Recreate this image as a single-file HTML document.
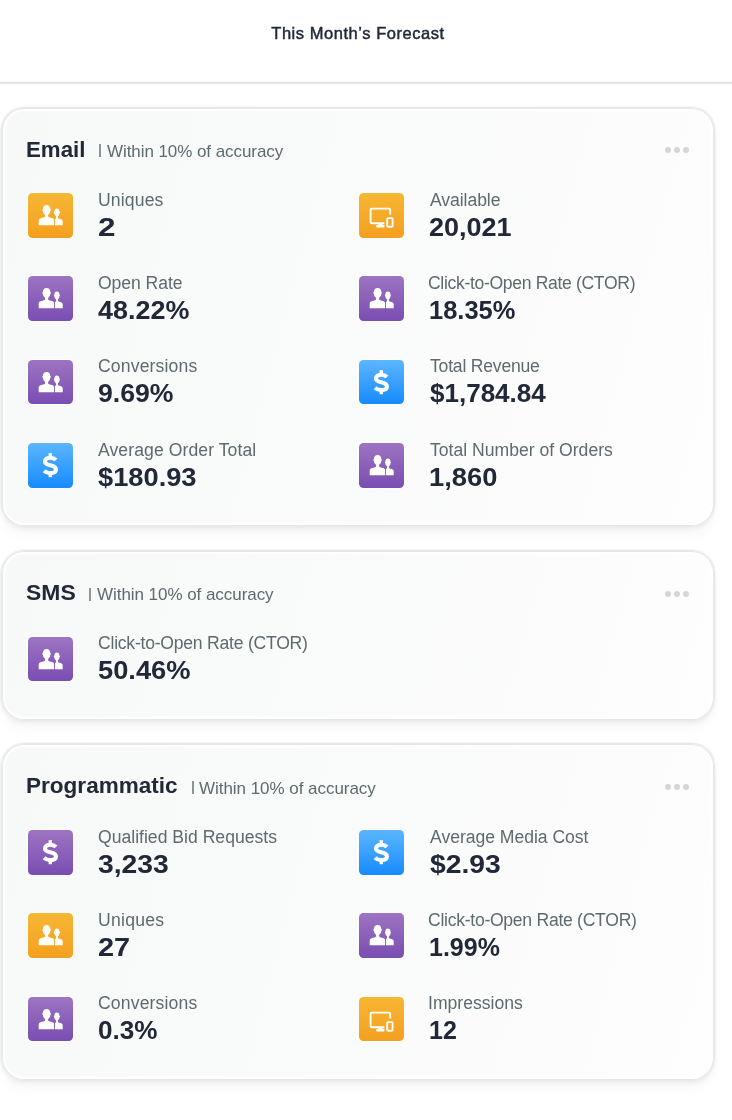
<!DOCTYPE html><html><head><meta charset="utf-8"><style>
html,body{margin:0;padding:0;background:#fff;}
body{width:732px;height:1120px;position:relative;overflow:hidden;font-family:"Liberation Sans",sans-serif;}
.t{position:absolute;white-space:nowrap;line-height:1;will-change:transform;}
.card{position:absolute;left:1px;width:714px;box-sizing:border-box;border:1px solid #e9e9e9;border-radius:23px;
 background:linear-gradient(105deg,#f7f8f8 0%,#f9fafa 40%,#fcfcfc 75%,#fefefe 100%);
 box-shadow:inset 0 0 0 1px #e6e6e6, inset 0 0 0 3.2px #fff, 0 0 0 0.6px #eeeeee, 0 3px 5px -1px rgba(0,0,0,0.05), 0 9px 16px -4px rgba(0,0,0,0.045);}
.ic{position:absolute;width:44.7px;height:44.7px;border-radius:4.5px;box-shadow:0 0 0 1px #fff;}
.ic svg{position:absolute;left:0;top:0;}
.dots{position:absolute;}
.dots i{position:absolute;width:6px;height:6px;border-radius:50%;background:#d6d6d6;top:0;}
.lb{font-size:17.6px;color:#5e6b6e;}
.vl{font-size:25px;font-weight:bold;color:#212838;}
</style></head><body>
<div class="t" style="left:0;width:716px;text-align:center;top:25.03px;font-size:16.5px;font-weight:normal;-webkit-text-stroke:0.45px #212838;color:#212838;letter-spacing:0.545px;">This Month’s Forecast</div>
<div style="position:absolute;left:0;width:732px;top:81px;height:4px;background:linear-gradient(#f9f9f9 0 25%,#e0e0e0 25% 50%,#e6e6e6 50% 75%,#fafafa 75% 100%)"></div>
<div class="card" style="top:106.5px;height:420.5px"></div>
<div class="t" style="left:26.35px;top:139.70px;font-size:21.5px;font-weight:bold;color:#212838;transform:scaleX(1.0364);transform-origin:0 0;">Email</div>
<div style="position:absolute;left:98.90px;top:144.00px;width:2px;height:13.2px;background:#8c959a"></div>
<div class="t" style="left:106.70px;top:143.31px;font-size:17px;color:#5e6b6e;letter-spacing:-0.067px;">Within 10% of accuracy</div>
<div class="dots" style="left:665px;top:147.00px"><i style="left:0px"></i><i style="left:9px"></i><i style="left:18px"></i></div>
<div class="ic" style="left:28.4px;top:193.10px;background:linear-gradient(180deg,#f7b733,#f49f1f)"><svg width="45" height="45" viewBox="0 0 45 45"><g fill="#fff" transform="translate(0.5 0.4)">
<path d="M10.2 31.8V27.2Q10.2 25.4 12 24.9L15.6 23.9Q16.6 23.6 16.6 22.6V21.6Q14.6 20.4 14.4 17.6Q13.6 17.2 13.8 16.2Q14 15.6 14.4 15.6Q14.6 11.6 18.1 11.6Q21.6 11.6 21.8 15.6Q22.2 15.6 22.4 16.2Q22.6 17.2 21.8 17.6Q21.6 20.4 19.6 21.6V22.6Q19.6 23.6 20.6 23.9L24.2 24.9Q25.6 25.4 25.6 27.2V31.8Z"/>
<path d="M26.5 31.8V25.7L27 25.3Q27.6 24.9 27.6 24.2V23.2Q26 22.2 25.8 19.8Q25.2 19.5 25.3 18.8Q25.4 18.4 25.8 18.4Q26 15 28.2 15Q30.9 15 31 18.4Q31.4 18.4 31.5 18.8Q31.6 19.5 31 19.8Q30.8 22.2 29.4 23.2V24.2Q29.4 24.9 30.2 25.2L32.6 25.8Q34.2 26.3 34.2 27.8V31.8Z"/>
</g></svg></div>
<div class="t lb" style="left:97.62px;top:191.50px;letter-spacing:0.133px;">Uniques</div>
<div class="t vl" style="left:97.75px;top:215.04px;transform:scaleX(1.2571);transform-origin:0 0;">2</div>
<div class="ic" style="left:359.4px;top:193.10px;background:linear-gradient(180deg,#f7b733,#f49f1f)"><svg width="45" height="45" viewBox="0 0 45 45"><g fill="none" stroke="#fff" stroke-width="1.9">
<path d="M31.2 21.6V16.8c0-.7-.5-1.2-1.2-1.2H12.8c-.7 0-1.2.5-1.2 1.2v12.3c0 .7.5 1.2 1.2 1.2h12.6"/>
<rect x="28.2" y="25.1" width="5.4" height="8.6" rx="1"/>
</g><g fill="#fff"><rect x="19.3" y="30" width="4.4" height="2.6"/><rect x="17.2" y="32" width="8.3" height="2.4" rx=".6"/></g></svg></div>
<div class="t lb" style="left:429.78px;top:191.50px;letter-spacing:-0.075px;">Available</div>
<div class="t vl" style="left:429.21px;top:215.04px;transform:scaleX(1.0800);transform-origin:0 0;">20,021</div>
<div class="ic" style="left:28.4px;top:276.43px;background:linear-gradient(180deg,#9d74c2,#7a4db2)"><svg width="45" height="45" viewBox="0 0 45 45"><g fill="#fff" transform="translate(0.5 0.4)">
<path d="M10.2 31.8V27.2Q10.2 25.4 12 24.9L15.6 23.9Q16.6 23.6 16.6 22.6V21.6Q14.6 20.4 14.4 17.6Q13.6 17.2 13.8 16.2Q14 15.6 14.4 15.6Q14.6 11.6 18.1 11.6Q21.6 11.6 21.8 15.6Q22.2 15.6 22.4 16.2Q22.6 17.2 21.8 17.6Q21.6 20.4 19.6 21.6V22.6Q19.6 23.6 20.6 23.9L24.2 24.9Q25.6 25.4 25.6 27.2V31.8Z"/>
<path d="M26.5 31.8V25.7L27 25.3Q27.6 24.9 27.6 24.2V23.2Q26 22.2 25.8 19.8Q25.2 19.5 25.3 18.8Q25.4 18.4 25.8 18.4Q26 15 28.2 15Q30.9 15 31 18.4Q31.4 18.4 31.5 18.8Q31.6 19.5 31 19.8Q30.8 22.2 29.4 23.2V24.2Q29.4 24.9 30.2 25.2L32.6 25.8Q34.2 26.3 34.2 27.8V31.8Z"/>
</g></svg></div>
<div class="t lb" style="left:97.62px;top:274.82px;letter-spacing:-0.075px;">Open Rate</div>
<div class="t vl" style="left:98.45px;top:297.76px;transform:scaleX(1.0776);transform-origin:0 0;">48.22%</div>
<div class="ic" style="left:359.4px;top:276.43px;background:linear-gradient(180deg,#9d74c2,#7a4db2)"><svg width="45" height="45" viewBox="0 0 45 45"><g fill="#fff" transform="translate(0.5 0.4)">
<path d="M10.2 31.8V27.2Q10.2 25.4 12 24.9L15.6 23.9Q16.6 23.6 16.6 22.6V21.6Q14.6 20.4 14.4 17.6Q13.6 17.2 13.8 16.2Q14 15.6 14.4 15.6Q14.6 11.6 18.1 11.6Q21.6 11.6 21.8 15.6Q22.2 15.6 22.4 16.2Q22.6 17.2 21.8 17.6Q21.6 20.4 19.6 21.6V22.6Q19.6 23.6 20.6 23.9L24.2 24.9Q25.6 25.4 25.6 27.2V31.8Z"/>
<path d="M26.5 31.8V25.7L27 25.3Q27.6 24.9 27.6 24.2V23.2Q26 22.2 25.8 19.8Q25.2 19.5 25.3 18.8Q25.4 18.4 25.8 18.4Q26 15 28.2 15Q30.9 15 31 18.4Q31.4 18.4 31.5 18.8Q31.6 19.5 31 19.8Q30.8 22.2 29.4 23.2V24.2Q29.4 24.9 30.2 25.2L32.6 25.8Q34.2 26.3 34.2 27.8V31.8Z"/>
</g></svg></div>
<div class="t lb" style="left:428.38px;top:274.82px;letter-spacing:-0.342px;">Click-to-Open Rate (CTOR)</div>
<div class="t vl" style="left:429.21px;top:297.76px;transform:scaleX(1.0183);transform-origin:0 0;">18.35%</div>
<div class="ic" style="left:28.4px;top:359.76px;background:linear-gradient(180deg,#9d74c2,#7a4db2)"><svg width="45" height="45" viewBox="0 0 45 45"><g fill="#fff" transform="translate(0.5 0.4)">
<path d="M10.2 31.8V27.2Q10.2 25.4 12 24.9L15.6 23.9Q16.6 23.6 16.6 22.6V21.6Q14.6 20.4 14.4 17.6Q13.6 17.2 13.8 16.2Q14 15.6 14.4 15.6Q14.6 11.6 18.1 11.6Q21.6 11.6 21.8 15.6Q22.2 15.6 22.4 16.2Q22.6 17.2 21.8 17.6Q21.6 20.4 19.6 21.6V22.6Q19.6 23.6 20.6 23.9L24.2 24.9Q25.6 25.4 25.6 27.2V31.8Z"/>
<path d="M26.5 31.8V25.7L27 25.3Q27.6 24.9 27.6 24.2V23.2Q26 22.2 25.8 19.8Q25.2 19.5 25.3 18.8Q25.4 18.4 25.8 18.4Q26 15 28.2 15Q30.9 15 31 18.4Q31.4 18.4 31.5 18.8Q31.6 19.5 31 19.8Q30.8 22.2 29.4 23.2V24.2Q29.4 24.9 30.2 25.2L32.6 25.8Q34.2 26.3 34.2 27.8V31.8Z"/>
</g></svg></div>
<div class="t lb" style="left:97.62px;top:358.14px;letter-spacing:0.140px;">Conversions</div>
<div class="t vl" style="left:97.75px;top:381.08px;transform:scaleX(1.0656);transform-origin:0 0;">9.69%</div>
<div class="ic" style="left:359.4px;top:359.76px;background:linear-gradient(180deg,#5cb6ff,#168bff)"><svg width="45" height="45" viewBox="0 0 45 45"><g fill="#fff"><rect x="20.6" y="10.2" width="3.3" height="4"/><rect x="20.6" y="30.2" width="3.3" height="4"/></g>
<path fill="none" stroke="#fff" stroke-width="4.1" d="M28 16.9C26.6 15.5 24.6 14.7 22.3 14.7C19.3 14.7 17 16.1 17 18.5C17 21.1 19.6 21.7 22.3 22.3C25.3 22.9 27.9 23.7 27.9 26.5C27.9 28.9 25.5 30.1 22.3 30.1C19.9 30.1 17.7 29.2 16.1 27.7"/></svg></div>
<div class="t lb" style="left:429.78px;top:358.14px;letter-spacing:-0.217px;">Total Revenue</div>
<div class="t vl" style="left:429.91px;top:381.08px;transform:scaleX(1.0407);transform-origin:0 0;">$1,784.84</div>
<div class="ic" style="left:28.4px;top:443.09px;background:linear-gradient(180deg,#5cb6ff,#168bff)"><svg width="45" height="45" viewBox="0 0 45 45"><g fill="#fff"><rect x="20.6" y="10.2" width="3.3" height="4"/><rect x="20.6" y="30.2" width="3.3" height="4"/></g>
<path fill="none" stroke="#fff" stroke-width="4.1" d="M28 16.9C26.6 15.5 24.6 14.7 22.3 14.7C19.3 14.7 17 16.1 17 18.5C17 21.1 19.6 21.7 22.3 22.3C25.3 22.9 27.9 23.7 27.9 26.5C27.9 28.9 25.5 30.1 22.3 30.1C19.9 30.1 17.7 29.2 16.1 27.7"/></svg></div>
<div class="t lb" style="left:98.32px;top:442.06px;letter-spacing:0.078px;">Average Order Total</div>
<div class="t vl" style="left:98.45px;top:465.00px;transform:scaleX(1.0901);transform-origin:0 0;">$180.93</div>
<div class="ic" style="left:359.4px;top:443.09px;background:linear-gradient(180deg,#9d74c2,#7a4db2)"><svg width="45" height="45" viewBox="0 0 45 45"><g fill="#fff" transform="translate(0.5 0.4)">
<path d="M10.2 31.8V27.2Q10.2 25.4 12 24.9L15.6 23.9Q16.6 23.6 16.6 22.6V21.6Q14.6 20.4 14.4 17.6Q13.6 17.2 13.8 16.2Q14 15.6 14.4 15.6Q14.6 11.6 18.1 11.6Q21.6 11.6 21.8 15.6Q22.2 15.6 22.4 16.2Q22.6 17.2 21.8 17.6Q21.6 20.4 19.6 21.6V22.6Q19.6 23.6 20.6 23.9L24.2 24.9Q25.6 25.4 25.6 27.2V31.8Z"/>
<path d="M26.5 31.8V25.7L27 25.3Q27.6 24.9 27.6 24.2V23.2Q26 22.2 25.8 19.8Q25.2 19.5 25.3 18.8Q25.4 18.4 25.8 18.4Q26 15 28.2 15Q30.9 15 31 18.4Q31.4 18.4 31.5 18.8Q31.6 19.5 31 19.8Q30.8 22.2 29.4 23.2V24.2Q29.4 24.9 30.2 25.2L32.6 25.8Q34.2 26.3 34.2 27.8V31.8Z"/>
</g></svg></div>
<div class="t lb" style="left:429.78px;top:442.06px;letter-spacing:-0.000px;">Total Number of Orders</div>
<div class="t vl" style="left:428.51px;top:465.00px;transform:scaleX(1.0920);transform-origin:0 0;">1,860</div>
<div class="card" style="top:549.7px;height:171px"></div>
<div class="t" style="left:26.35px;top:582.50px;font-size:21.5px;font-weight:bold;color:#212838;transform:scaleX(1.0667);transform-origin:0 0;">SMS</div>
<div style="position:absolute;left:88.60px;top:587.80px;width:2px;height:13.2px;background:#8c959a"></div>
<div class="t" style="left:96.55px;top:585.81px;font-size:17px;color:#5e6b6e;letter-spacing:-0.048px;">Within 10% of accuracy</div>
<div class="dots" style="left:665px;top:590.50px"><i style="left:0px"></i><i style="left:9px"></i><i style="left:18px"></i></div>
<div class="ic" style="left:28.4px;top:636.60px;background:linear-gradient(180deg,#9d74c2,#7a4db2)"><svg width="45" height="45" viewBox="0 0 45 45"><g fill="#fff" transform="translate(0.5 0.4)">
<path d="M10.2 31.8V27.2Q10.2 25.4 12 24.9L15.6 23.9Q16.6 23.6 16.6 22.6V21.6Q14.6 20.4 14.4 17.6Q13.6 17.2 13.8 16.2Q14 15.6 14.4 15.6Q14.6 11.6 18.1 11.6Q21.6 11.6 21.8 15.6Q22.2 15.6 22.4 16.2Q22.6 17.2 21.8 17.6Q21.6 20.4 19.6 21.6V22.6Q19.6 23.6 20.6 23.9L24.2 24.9Q25.6 25.4 25.6 27.2V31.8Z"/>
<path d="M26.5 31.8V25.7L27 25.3Q27.6 24.9 27.6 24.2V23.2Q26 22.2 25.8 19.8Q25.2 19.5 25.3 18.8Q25.4 18.4 25.8 18.4Q26 15 28.2 15Q30.9 15 31 18.4Q31.4 18.4 31.5 18.8Q31.6 19.5 31 19.8Q30.8 22.2 29.4 23.2V24.2Q29.4 24.9 30.2 25.2L32.6 25.8Q34.2 26.3 34.2 27.8V31.8Z"/>
</g></svg></div>
<div class="t lb" style="left:97.62px;top:634.90px;letter-spacing:-0.242px;">Click-to-Open Rate (CTOR)</div>
<div class="t vl" style="left:97.75px;top:658.44px;transform:scaleX(1.0906);transform-origin:0 0;">50.46%</div>
<div class="card" style="top:743.0px;height:337.5px"></div>
<div class="t" style="left:26.35px;top:776.40px;font-size:21.5px;font-weight:bold;color:#212838;transform:scaleX(1.0490);transform-origin:0 0;">Programmatic</div>
<div style="position:absolute;left:191.50px;top:780.70px;width:2px;height:13.2px;background:#8c959a"></div>
<div class="t" style="left:198.70px;top:779.81px;font-size:17px;color:#5e6b6e;letter-spacing:-0.038px;">Within 10% of accuracy</div>
<div class="dots" style="left:665px;top:784.00px"><i style="left:0px"></i><i style="left:9px"></i><i style="left:18px"></i></div>
<div class="ic" style="left:28.4px;top:830.10px;background:linear-gradient(180deg,#9d74c2,#7a4db2)"><svg width="45" height="45" viewBox="0 0 45 45"><g fill="#fff"><rect x="20.6" y="10.2" width="3.3" height="4"/><rect x="20.6" y="30.2" width="3.3" height="4"/></g>
<path fill="none" stroke="#fff" stroke-width="4.1" d="M28 16.9C26.6 15.5 24.6 14.7 22.3 14.7C19.3 14.7 17 16.1 17 18.5C17 21.1 19.6 21.7 22.3 22.3C25.3 22.9 27.9 23.7 27.9 26.5C27.9 28.9 25.5 30.1 22.3 30.1C19.9 30.1 17.7 29.2 16.1 27.7"/></svg></div>
<div class="t lb" style="left:97.62px;top:828.50px;">Qualified Bid Requests</div>
<div class="t vl" style="left:97.75px;top:852.04px;transform:scaleX(1.1314);transform-origin:0 0;">3,233</div>
<div class="ic" style="left:359.4px;top:830.10px;background:linear-gradient(180deg,#5cb6ff,#168bff)"><svg width="45" height="45" viewBox="0 0 45 45"><g fill="#fff"><rect x="20.6" y="10.2" width="3.3" height="4"/><rect x="20.6" y="30.2" width="3.3" height="4"/></g>
<path fill="none" stroke="#fff" stroke-width="4.1" d="M28 16.9C26.6 15.5 24.6 14.7 22.3 14.7C19.3 14.7 17 16.1 17 18.5C17 21.1 19.6 21.7 22.3 22.3C25.3 22.9 27.9 23.7 27.9 26.5C27.9 28.9 25.5 30.1 22.3 30.1C19.9 30.1 17.7 29.2 16.1 27.7"/></svg></div>
<div class="t lb" style="left:429.78px;top:828.50px;letter-spacing:-0.035px;">Average Media Cost</div>
<div class="t vl" style="left:429.91px;top:852.04px;transform:scaleX(1.1318);transform-origin:0 0;">$2.93</div>
<div class="ic" style="left:28.4px;top:913.43px;background:linear-gradient(180deg,#f7b733,#f49f1f)"><svg width="45" height="45" viewBox="0 0 45 45"><g fill="#fff" transform="translate(0.5 0.4)">
<path d="M10.2 31.8V27.2Q10.2 25.4 12 24.9L15.6 23.9Q16.6 23.6 16.6 22.6V21.6Q14.6 20.4 14.4 17.6Q13.6 17.2 13.8 16.2Q14 15.6 14.4 15.6Q14.6 11.6 18.1 11.6Q21.6 11.6 21.8 15.6Q22.2 15.6 22.4 16.2Q22.6 17.2 21.8 17.6Q21.6 20.4 19.6 21.6V22.6Q19.6 23.6 20.6 23.9L24.2 24.9Q25.6 25.4 25.6 27.2V31.8Z"/>
<path d="M26.5 31.8V25.7L27 25.3Q27.6 24.9 27.6 24.2V23.2Q26 22.2 25.8 19.8Q25.2 19.5 25.3 18.8Q25.4 18.4 25.8 18.4Q26 15 28.2 15Q30.9 15 31 18.4Q31.4 18.4 31.5 18.8Q31.6 19.5 31 19.8Q30.8 22.2 29.4 23.2V24.2Q29.4 24.9 30.2 25.2L32.6 25.8Q34.2 26.3 34.2 27.8V31.8Z"/>
</g></svg></div>
<div class="t lb" style="left:97.62px;top:911.82px;letter-spacing:0.267px;">Uniques</div>
<div class="t vl" style="left:97.75px;top:934.76px;transform:scaleX(1.1553);transform-origin:0 0;">27</div>
<div class="ic" style="left:359.4px;top:913.43px;background:linear-gradient(180deg,#9d74c2,#7a4db2)"><svg width="45" height="45" viewBox="0 0 45 45"><g fill="#fff" transform="translate(0.5 0.4)">
<path d="M10.2 31.8V27.2Q10.2 25.4 12 24.9L15.6 23.9Q16.6 23.6 16.6 22.6V21.6Q14.6 20.4 14.4 17.6Q13.6 17.2 13.8 16.2Q14 15.6 14.4 15.6Q14.6 11.6 18.1 11.6Q21.6 11.6 21.8 15.6Q22.2 15.6 22.4 16.2Q22.6 17.2 21.8 17.6Q21.6 20.4 19.6 21.6V22.6Q19.6 23.6 20.6 23.9L24.2 24.9Q25.6 25.4 25.6 27.2V31.8Z"/>
<path d="M26.5 31.8V25.7L27 25.3Q27.6 24.9 27.6 24.2V23.2Q26 22.2 25.8 19.8Q25.2 19.5 25.3 18.8Q25.4 18.4 25.8 18.4Q26 15 28.2 15Q30.9 15 31 18.4Q31.4 18.4 31.5 18.8Q31.6 19.5 31 19.8Q30.8 22.2 29.4 23.2V24.2Q29.4 24.9 30.2 25.2L32.6 25.8Q34.2 26.3 34.2 27.8V31.8Z"/>
</g></svg></div>
<div class="t lb" style="left:428.38px;top:911.82px;letter-spacing:-0.283px;">Click-to-Open Rate (CTOR)</div>
<div class="t vl" style="left:429.21px;top:934.76px;transform:scaleX(1.0002);transform-origin:0 0;">1.99%</div>
<div class="ic" style="left:28.4px;top:996.76px;background:linear-gradient(180deg,#9d74c2,#7a4db2)"><svg width="45" height="45" viewBox="0 0 45 45"><g fill="#fff" transform="translate(0.5 0.4)">
<path d="M10.2 31.8V27.2Q10.2 25.4 12 24.9L15.6 23.9Q16.6 23.6 16.6 22.6V21.6Q14.6 20.4 14.4 17.6Q13.6 17.2 13.8 16.2Q14 15.6 14.4 15.6Q14.6 11.6 18.1 11.6Q21.6 11.6 21.8 15.6Q22.2 15.6 22.4 16.2Q22.6 17.2 21.8 17.6Q21.6 20.4 19.6 21.6V22.6Q19.6 23.6 20.6 23.9L24.2 24.9Q25.6 25.4 25.6 27.2V31.8Z"/>
<path d="M26.5 31.8V25.7L27 25.3Q27.6 24.9 27.6 24.2V23.2Q26 22.2 25.8 19.8Q25.2 19.5 25.3 18.8Q25.4 18.4 25.8 18.4Q26 15 28.2 15Q30.9 15 31 18.4Q31.4 18.4 31.5 18.8Q31.6 19.5 31 19.8Q30.8 22.2 29.4 23.2V24.2Q29.4 24.9 30.2 25.2L32.6 25.8Q34.2 26.3 34.2 27.8V31.8Z"/>
</g></svg></div>
<div class="t lb" style="left:97.62px;top:995.14px;letter-spacing:0.140px;">Conversions</div>
<div class="t vl" style="left:97.75px;top:1018.08px;transform:scaleX(1.0461);transform-origin:0 0;">0.3%</div>
<div class="ic" style="left:359.4px;top:996.76px;background:linear-gradient(180deg,#f7b733,#f49f1f)"><svg width="45" height="45" viewBox="0 0 45 45"><g fill="none" stroke="#fff" stroke-width="1.9">
<path d="M31.2 21.6V16.8c0-.7-.5-1.2-1.2-1.2H12.8c-.7 0-1.2.5-1.2 1.2v12.3c0 .7.5 1.2 1.2 1.2h12.6"/>
<rect x="28.2" y="25.1" width="5.4" height="8.6" rx="1"/>
</g><g fill="#fff"><rect x="19.3" y="30" width="4.4" height="2.6"/><rect x="17.2" y="32" width="8.3" height="2.4" rx=".6"/></g></svg></div>
<div class="t lb" style="left:427.68px;top:995.14px;letter-spacing:-0.000px;">Impressions</div>
<div class="t vl" style="left:429.21px;top:1018.08px;transform:scaleX(0.9830);transform-origin:0 0;">12</div>
</body></html>
